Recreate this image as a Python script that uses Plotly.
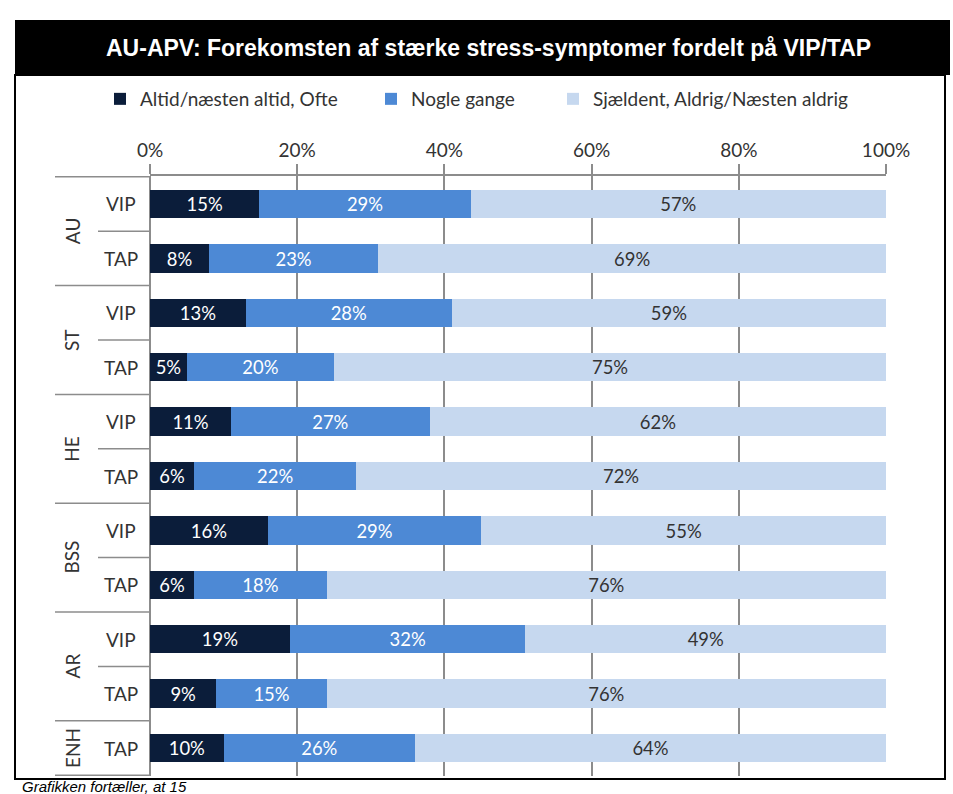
import plotly.graph_objects as go

# ---- data ----
groups = ["AU", "AU", "ST", "ST", "HE", "HE", "BSS", "BSS", "AR", "AR", "ENH"]
roles = ["VIP", "TAP", "VIP", "TAP", "VIP", "TAP", "VIP", "TAP", "VIP", "TAP", "TAP"]
often = [15, 8, 13, 5, 11, 6, 16, 6, 19, 9, 10]
sometimes = [29, 23, 28, 20, 27, 22, 29, 18, 32, 15, 26]
rarely = [57, 69, 59, 75, 62, 72, 55, 76, 49, 76, 64]
series_names = ["Altid/næsten altid, Ofte", "Nogle gange", "Sjældent, Aldrig/Næsten aldrig"]
colors = ["#0b1d3a", "#4d89d5", "#c6d8ef"]
text_colors = ["white", "white", "#333333"]
tick_vals = [0, 20, 40, 60, 80, 100]
tick_text = ["0%", "20%", "40%", "60%", "80%", "100%"]
title_text = "AU-APV: Forekomsten af stærke stress-symptomer fordelt på VIP/TAP"
footer_text = "Grafikken fortæller, at 15"

cats = [f"{g} {r}" for g, r in zip(groups, roles)]

W, H = 953, 794
ML, MR, MT, MB = 150, 67, 176, 18
PW, PH = W - ML - MR, H - MT - MB


def px(x):
    return (x - ML) / PW


def py(y):
    return (H - MB - y) / PH


FONT = "Lato, 'Open Sans', sans-serif"
FS = 19

fig = go.Figure()
legends = ["legend", "legend2", "legend3"]
for vals, name, col, tcol, lg in zip([often, sometimes, rarely], series_names, colors, text_colors, legends):
    fig.add_trace(go.Bar(
        y=cats, x=vals, name=name, orientation="h",
        marker=dict(color=col, line=dict(width=0)),
        text=[f"{v}%" for v in vals], textposition="inside", insidetextanchor="middle",
        textfont=dict(color=tcol, size=FS, family=FONT),
        legend=lg, hoverinfo="skip",
    ))

shapes = []
annotations = []
# title bar and frame
shapes.append(dict(type="rect", xref="paper", yref="paper", x0=px(15), x1=px(950), y0=py(20), y1=py(75),
                   fillcolor="black", line=dict(width=0), layer="below"))
shapes.append(dict(type="rect", xref="paper", yref="paper", x0=px(15), x1=px(945), y0=py(75), y1=py(779),
                   fillcolor="rgba(0,0,0,0)", line=dict(color="black", width=2)))
annotations.append(dict(text=f"<b>{title_text}</b>", xref="paper", yref="paper", x=px(488), y=py(48),
                        showarrow=False, font=dict(color="white", size=23, family="'Liberation Sans Narrow', 'Liberation Sans', Arial, sans-serif"),
                        xanchor="center", yanchor="middle"))
annotations.append(dict(text=f"<i>{footer_text}</i>", xref="paper", yref="paper", x=px(20), y=py(786),
                        showarrow=False, font=dict(color="black", size=15, family="'Liberation Sans', sans-serif"),
                        xanchor="left", yanchor="middle"))

# left hierarchical labels
grid_col = "#8c8c8c"
for i, r in enumerate(roles):
    annotations.append(dict(text=r, xref="paper", yref="y", x=px(121), y=cats[i], showarrow=False,
                            font=dict(size=FS, color="#333333", family=FONT), xanchor="center", yanchor="middle"))
seen = []
for g in groups:
    if g not in seen:
        seen.append(g)
for g in seen:
    idx = [i for i, gg in enumerate(groups) if gg == g]
    center = (idx[0] + idx[-1]) / 2
    annotations.append(dict(text=g, xref="paper", yref="y", x=px(72), y=center, showarrow=False, textangle=-90,
                            font=dict(size=FS, color="#333333", family=FONT), xanchor="center", yanchor="middle"))
    shapes.append(dict(type="line", xref="paper", yref="y", x0=px(55), x1=0, y0=idx[0] - 0.5, y1=idx[0] - 0.5,
                       line=dict(color=grid_col, width=1.5)))
    if len(idx) > 1:
        for j in idx[:-1]:
            shapes.append(dict(type="line", xref="paper", yref="y", x0=px(98), x1=0, y0=j + 0.5, y1=j + 0.5,
                               line=dict(color=grid_col, width=1.5)))
shapes.append(dict(type="line", xref="paper", yref="y", x0=px(55), x1=0, y0=len(cats) - 0.5, y1=len(cats) - 0.5,
                   line=dict(color=grid_col, width=1.5)))

leg_common = dict(yanchor="middle", xanchor="left", orientation="h",
                  font=dict(size=FS, color="#333333", family=FONT), bgcolor="rgba(0,0,0,0)")
fig.update_layout(
    width=W, height=H,
    margin=dict(l=ML, r=MR, t=MT, b=MB),
    paper_bgcolor="white", plot_bgcolor="white",
    barmode="stack", barnorm="percent", bargap=0.48,
    font=dict(family=FONT, color="#333333", size=FS),
    shapes=shapes, annotations=annotations,
    showlegend=True,
    legend=dict(x=px(100), y=py(99), **leg_common),
    legend2=dict(x=px(371), y=py(99), **leg_common),
    legend3=dict(x=px(553), y=py(99), **leg_common),
    xaxis=dict(side="top", range=[0, 100], tickvals=tick_vals, ticktext=tick_text,
               showgrid=True, gridcolor=grid_col, gridwidth=1.5,
               showline=True, linecolor=grid_col, linewidth=1.5,
               ticks="outside", ticklen=10, tickcolor=grid_col, tickwidth=1.5,
               zeroline=True, zerolinecolor=grid_col, zerolinewidth=1.5,
               tickfont=dict(size=FS, color="#333333"), fixedrange=True),
    yaxis=dict(categoryorder="array", categoryarray=cats, autorange="reversed",
               showticklabels=False, ticks="", showgrid=False, zeroline=False, showline=False,
               fixedrange=True),
)

fig.write_html("out.html", config={"displayModeBar": False},
               post_script="document.body.style.margin='0px';document.body.style.overflow='hidden';")
